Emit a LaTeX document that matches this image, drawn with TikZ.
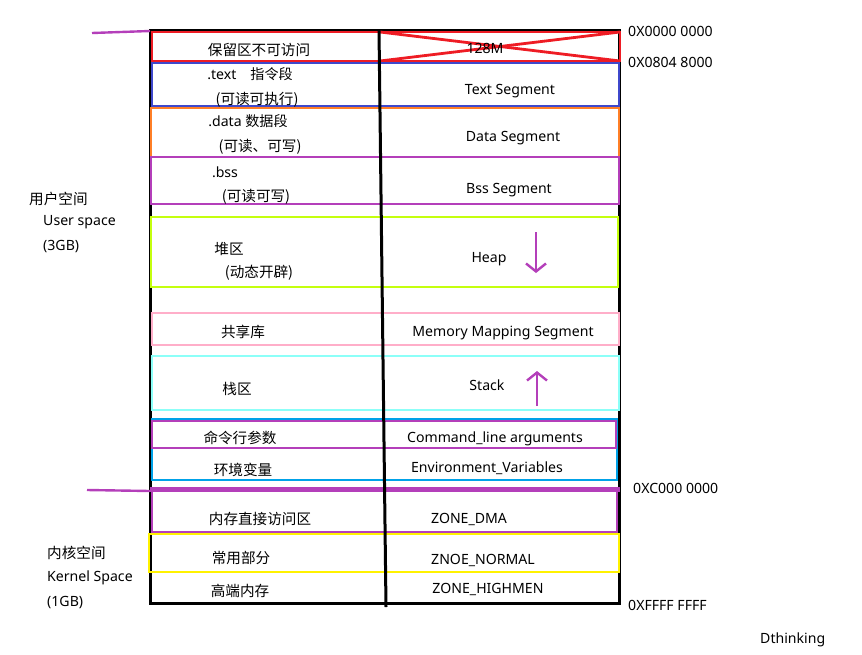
\documentclass[tikz,border=0pt]{standalone}
\usepackage{fontspec}
\setmainfont{Noto Sans}
\newfontfamily\cjk{Noto Sans CJK SC}
\usepackage{tikz}
\usetikzlibrary{
	arrows.meta
}
\definecolor{segred}{HTML}{EE1C24}
\definecolor{segblue}{HTML}{3F48CC}
\definecolor{segorange}{HTML}{FF7F27}
\definecolor{segpurple}{HTML}{B43FBA}
\definecolor{seglime}{HTML}{C4FF0E}
\definecolor{segpink}{HTML}{FFAEC9}
\definecolor{segcyan}{HTML}{8CFFF8}
\definecolor{segsky}{HTML}{00A2E8}
\definecolor{segyellow}{HTML}{FFF200}

\begin{document}
\begin{tikzpicture}[
				x=1pt, y=-1pt,
				seg/.style={line width=2.8pt},
				txt/.style={inner sep=0pt, yshift=-1.5pt, font=\fontsize{14.1}{17}\selectfont},
				cn/.style={inner sep=0pt, yshift=-2pt, font=\fontsize{14.6}{17}\selectfont\cjk},
				growarrow/.style={draw=segpurple, line width=2.4pt,
					-{Straight Barb[length=8pt,width=20pt]}},
				markline/.style={draw=segpurple, line width=2.4pt}
				]
				\useasboundingbox (0,0) rectangle (862,654);
				
				% outer frame
				\draw[line width=3pt] (150,30) rectangle (619,603);
				
				% user space segments
				\draw[seg, segred] (152,32) rectangle (620,61);
				\draw[seg, segred] (380,32) -- (620,61);
				\draw[seg, segred] (380,61) -- (620,32);
				\draw[seg, segblue] (152,63) rectangle (619,106);
				\draw[seg, segorange] (151,108) rectangle (619,157);
				\draw[seg, segpurple] (151,157) rectangle (619,204);
				\draw[seg, seglime] (151,217) rectangle (618,287);
				\draw[seg, segpink] (152,313) rectangle (619,345);
				\draw[seg, segcyan] (152,356) rectangle (619,410);
				\draw[seg, segsky] (152,419) rectangle (617,480);
				\draw[seg, segpurple] (152,421) rectangle (616,448);
				
				% kernel space segments
				\draw[segpurple, line width=5pt] (150,489) -- (620,489);
				\draw[seg, segpurple] (152,489) rectangle (617,532);
				\draw[seg, segyellow] (149,534) rectangle (619,572);
				
				% divider
				\draw[line width=3pt] (379,30) -- (386,607);
				
				% boundary marks
				\coordinate (userMarkA) at (92,33);
				\coordinate (userMarkB) at (150,31);
				\coordinate (kernMarkA) at (87,490);
				\coordinate (kernMarkB) at (150,491);
				\draw[markline] (userMarkA) -- (userMarkB);
				\draw[markline] (kernMarkA) -- (kernMarkB);
				
				% left column
				\node[cn] (reserved) at (259,48) {保留区不可访问};
				\node[txt] (textName) at (250,73) {.text\quad{\cjk 指令段}};
				\node[cn] (textMode) at (257,98) {(可读可执行)};
				\node[txt] (dataName) at (248,120) {.data {\cjk 数据段}};
				\node[cn] (dataMode) at (260,145) {(可读、可写)};
				\node[txt] (bssName) at (225,171) {.bss};
				\node[cn] (bssMode) at (256,195) {(可读可写)};
				\node[cn] (heapName) at (229,247) {堆区};
				\node[cn] (heapMode) at (259,271) {(动态开辟)};
				\node[cn] (libName) at (243,330) {共享库};
				\node[cn] (stackName) at (237,387) {栈区};
				\node[cn] (argsName) at (240,436) {命令行参数};
				\node[cn] (envName) at (243,468) {环境变量};
				\node[cn] (dmaName) at (260,517) {内存直接访问区};
				\node[cn] (normalName) at (241,556) {常用部分};
				\node[cn] (highName) at (240,589) {高端内存};
				
				% right column
				\node[txt] (reservedSize) at (485,47) {128M};
				\node[txt] (textSeg) at (510,90) {Text Segment};
				\node[txt] (dataSeg) at (513,137) {Data Segment};
				\node[txt] (bssSeg) at (509,189) {Bss Segment};
				\node[txt] (heapSeg) at (489,258) {Heap};
				\node[txt] (mmapSeg) at (503,331) {Memory Mapping Segment};
				\node[txt] (stackSeg) at (487,384) {Stack};
				\node[txt] (argsSeg) at (495,437) {Command\_line arguments};
				\node[txt] (envSeg) at (487,467) {Environment\_Variables};
				\node[txt] (dmaSeg) at (469,518) {ZONE\_DMA};
				\node[txt] (normalSeg) at (483,559) {ZNOE\_NORMAL};
				\node[txt] (highSeg) at (488,588) {ZONE\_HIGHMEN};
				
				% growth arrows
				\coordinate (heapTail) at (536,232);
				\coordinate (heapTip) at (536,273);
				\coordinate (stackTail) at (537,406);
				\coordinate (stackTip) at (537,371);
				\draw[growarrow] (heapTail) -- (heapTip);
				\draw[growarrow] (stackTail) -- (stackTip);
				
				% space labels
				\node[cn, anchor=west] (userCn) at (29,197) {用户空间};
				\node[txt, anchor=west] (userEn) at (43,221) {User space};
				\node[txt, anchor=west] (userSize) at (43,245) {(3GB)};
				\node[cn, anchor=west] (kernCn) at (47,551) {内核空间};
				\node[txt, anchor=west] (kernEn) at (47,576) {Kernel Space};
				\node[txt, anchor=west] (kernSize) at (47,601) {(1GB)};
				
				% addresses
				\node[txt, anchor=west] (addrZero) at (628,30) {0X0000 0000};
				\node[txt, anchor=west] (addrText) at (628,61) {0X0804 8000};
				\node[txt, anchor=west] (addrKern) at (633,487) {0XC000 0000};
				\node[txt, anchor=west] (addrTop) at (628,604) {0XFFFF FFFF};
				\node[txt, anchor=west] (author) at (760,638) {Dthinking};
			\end{tikzpicture}
\end{document}
